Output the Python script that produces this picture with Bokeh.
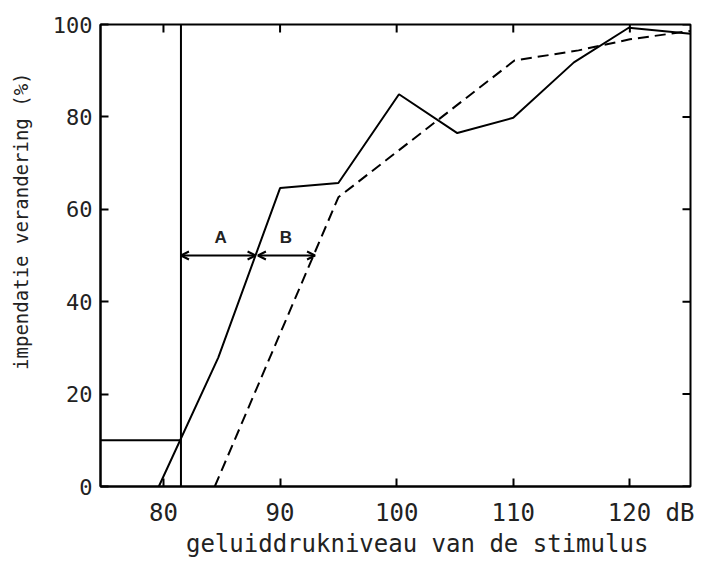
import math
from bokeh.plotting import figure
from bokeh.models import Range1d, FixedTicker, Arrow, OpenHead, Label
from bokeh.embed import file_html
from bokeh.resources import INLINE

# data
solid_x = [79.6, 84.7, 90.0, 95.0, 100.2, 105.2, 110.0, 115.2, 119.9, 125.2]
solid_y = [0.0, 27.9, 64.6, 65.7, 84.9, 76.5, 79.8, 91.8, 99.3, 98.0]
dashed_x = [84.4, 95.0, 110.1, 115.6, 120.0, 125.2]
dashed_y = [0.0, 62.6, 92.2, 94.4, 96.8, 98.6]
threshold_x = 81.5
threshold_y = 10.0
arrow_level = 50.0
arrow_A = [81.5, 87.9]
arrow_B = [88.1, 93.0]
label_names = ["A", "B"]
label_x = [84.9, 90.5]
label_y = [54.0, 54.0]
x_ticks = [80, 90, 100, 110, 120]
y_ticks = [0, 20, 40, 60, 80, 100]
x_min, x_max = 74.6, 125.2
y_min, y_max = 0, 100

MONO = "DejaVu Sans Mono"
NB = "\u00a0"

p = figure(width=694, height=560, output_backend="svg", toolbar_location=None,
           x_range=Range1d(x_min, x_max), y_range=Range1d(y_min, y_max),
           min_border_left=100, min_border_right=4, min_border_top=24, min_border_bottom=60,
           x_axis_label=NB * 3 + "geluiddrukniveau van de stimulus",
           y_axis_label=NB * 6 + "impendatie verandering (%)")
p.background_fill_color = "white"
p.border_fill_color = "white"
p.grid.visible = False
p.outline_line_color = "black"
p.outline_line_width = 2
p.outline_line_alpha = 1.0

for ax in (p.xaxis[0], p.yaxis[0]):
    ax.axis_line_width = 2
    ax.major_tick_in = 8
    ax.major_tick_out = 0
    ax.major_tick_line_width = 2
    ax.minor_tick_line_color = None
    ax.major_label_text_font = MONO
    ax.major_label_text_color = "#222222"
    ax.axis_label_text_font = MONO
    ax.axis_label_text_font_style = "normal"
    ax.axis_label_text_color = "#222222"
    ax.axis_label_text_line_height = 1.0
    ax.major_label_text_line_height = 1.0

p.xaxis[0].ticker = FixedTicker(ticks=x_ticks)
p.yaxis[0].ticker = FixedTicker(ticks=y_ticks)
p.xaxis[0].major_label_overrides = {120: NB * 3 + "120 dB"}
p.xaxis[0].major_label_text_font_size = "24px"
p.xaxis[0].major_label_standoff = 12
p.xaxis[0].axis_label_text_font_size = "24px"
p.xaxis[0].axis_label_standoff = 0
p.yaxis[0].major_label_text_font_size = "22px"
p.yaxis[0].major_label_standoff = 8
p.yaxis[0].axis_label_text_font_size = "19px"
p.yaxis[0].axis_label_standoff = 18

# inward ticks on the top and right sides of the box
p.ray(x=x_ticks, y=[y_max] * len(x_ticks), length=8, length_units="screen",
      angle=-math.pi / 2, line_color="black", line_width=2)
p.ray(x=[x_max] * len(y_ticks), y=y_ticks, length=8, length_units="screen",
      angle=math.pi, line_color="black", line_width=2)

# curves
p.line(solid_x, solid_y, line_color="black", line_width=2)
p.line(dashed_x, dashed_y, line_color="black", line_width=2, line_dash="11 6")

# threshold lines
p.line([threshold_x, threshold_x], [y_min, y_max], line_color="black", line_width=2)
p.line([x_min, threshold_x], [threshold_y, threshold_y], line_color="black", line_width=2)

# A/B arrows
for xs in (arrow_A, arrow_B):
    p.add_layout(Arrow(x_start=xs[0], x_end=xs[1], y_start=arrow_level, y_end=arrow_level,
                       line_color="black", line_width=2,
                       start=OpenHead(size=8, line_width=2, line_color="black"),
                       end=OpenHead(size=8, line_width=2, line_color="black")))

for name, lx, ly in zip(label_names, label_x, label_y):
    p.add_layout(Label(x=lx, y=ly, text=name, text_font="Liberation Sans",
                       text_font_style="bold", text_font_size="17px",
                       text_align="center", text_baseline="middle", text_color="#222222"))

open("out.html", "w").write(file_html(p, INLINE))
